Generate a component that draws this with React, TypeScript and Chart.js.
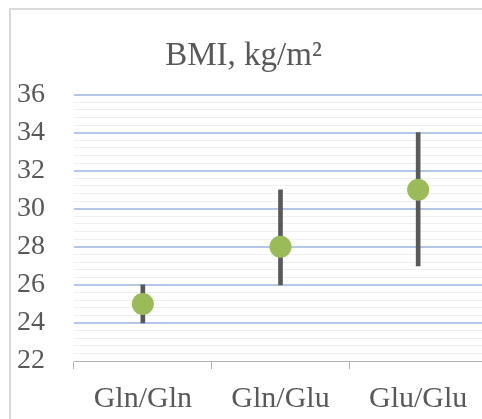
import React, { useEffect, useRef } from "react";
import { Chart, registerables } from "chart.js";

Chart.register(...registerables);

const categories = ["Gln/Gln", "Gln/Glu", "Glu/Glu"];
const means = [25, 28, 31];
const lows = [24, 26, 27];
const highs = [26, 31, 34];
const titleText = "BMI, kg/m²";
const yMin = 22;
const yMax = 36;
const yMajorStep = 2;
const yMinorStep = 0.4;

const isMajor = (v: number) => Math.abs(v / yMajorStep - Math.round(v / yMajorStep)) < 1e-6;

const framePlugin = {
  id: "frame",
  beforeDraw(chart: any) {
    const ctx = chart.ctx;
    ctx.save();
    ctx.fillStyle = "#ffffff";
    ctx.fillRect(0, 0, chart.width, chart.height);
    ctx.strokeStyle = "#d9d9d9";
    ctx.lineWidth = 2;
    ctx.strokeRect(10, 9, chart.width + 20, chart.height + 20);
    ctx.restore();
  },
};

export default function App() {
  const ref = useRef<HTMLCanvasElement | null>(null);
  useEffect(() => {
    if (!ref.current) return;
    const chart = new Chart(ref.current, {
      type: "bar",
      data: {
        labels: categories,
        datasets: [
          {
            type: "line",
            data: means,
            showLine: false,
            pointRadius: 11,
            pointHoverRadius: 11,
            pointBackgroundColor: "#9bbb59",
            pointBorderColor: "#9bbb59",
            pointBorderWidth: 0,
            order: 0,
          } as any,
          {
            type: "bar",
            data: lows.map((l, i) => [l, highs[i]]),
            backgroundColor: "#595959",
            borderWidth: 0,
            barThickness: 4,
            order: 1,
          } as any,
        ],
      },
      options: {
        animation: false,
        responsive: false,
        layout: { padding: { left: 0, right: 13, top: 0, bottom: -10 } },
        plugins: {
          legend: { display: false },
          tooltip: { enabled: false },
          title: {
            display: true,
            text: titleText,
            color: "#595959",
            font: { family: "Liberation Serif", size: 33, weight: "normal" },
            padding: { top: 37, bottom: 18 },
          },
        },
        scales: {
          x: {
            offset: true,
            grid: {
              offset: true,
              drawOnChartArea: false,
              drawTicks: true,
              tickLength: 8,
              color: "#b3b3b3",
              lineWidth: 1,
            },
            border: { display: true, color: "#b3b3b3", width: 1 },
            ticks: {
              color: "#595959",
              font: { family: "Liberation Serif", size: 30 },
              padding: 12,
              maxRotation: 0,
            },
          },
          y: {
            min: yMin,
            max: yMax,
            afterFit(scale: any) {
              scale.width = 74;
            },
            border: { display: false },
            grid: {
              drawTicks: false,
              color: (c: any) => {
                const v = c.tick ? c.tick.value : 0;
                if (Math.abs(v - yMin) < 1e-6) return "rgba(0,0,0,0)";
                return isMajor(v) ? "#b4c7e7" : "#efefef";
              },
              lineWidth: (c: any) => {
                const v = c.tick ? c.tick.value : 0;
                return isMajor(v) ? 2 : 1;
              },
            },
            ticks: {
              stepSize: yMinorStep,
              autoSkip: false,
              color: "#595959",
              padding: 29,
              font: { family: "Liberation Serif", size: 28 },
              callback: (v: any) => (isMajor(Number(v)) ? String(Math.round(Number(v))) : ""),
            },
          },
        },
      },
      plugins: [framePlugin],
    });
    return () => chart.destroy();
  }, []);
  return (
    <div style={{ position: "fixed", left: 0, top: 0, width: 500, height: 419, overflow: "hidden" }}>
      <canvas ref={ref} width={500} height={419} style={{ width: 500, height: 419, display: "block" }} />
    </div>
  );
}
